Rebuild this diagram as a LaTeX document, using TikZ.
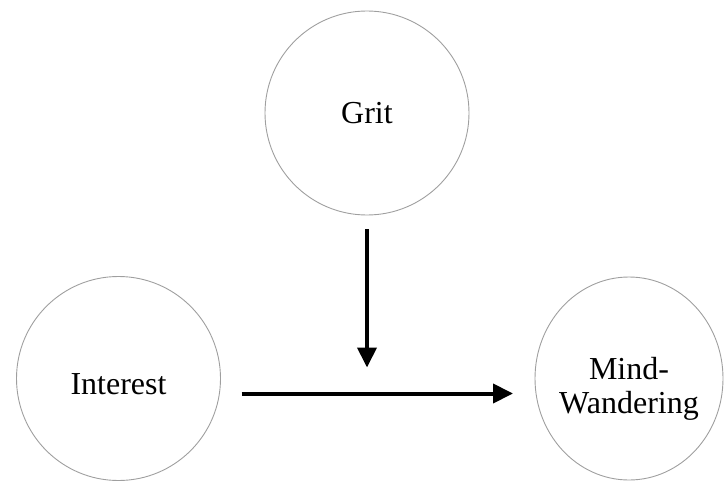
\documentclass[tikz,border=0pt]{standalone}
\usepackage{fontspec}
\setmainfont{Liberation Serif}
\usepackage{tikz}
\usetikzlibrary{arrows.meta,positioning,shapes.geometric}

\begin{document}
\begin{tikzpicture}[
        font=\fontsize{32}{34}\selectfont,
        var/.style={draw=gray!75, line width=0.9pt, circle, align=center, inner sep=0pt, outer sep=0pt, minimum size=204pt},
        arr/.style={-{Triangle[length=20pt,width=19pt]}, line width=4pt}
    ]
        \useasboundingbox (0,0) rectangle (725pt,483pt);
        \node[var] (grit) at (367pt,370pt) {Grit};
        \node[var, text height=32pt] (int) at (118.5pt,104.5pt) {Interest};
        \node[var, ellipse, inner sep=-12pt, text height=76pt, minimum width=188pt, minimum height=203pt] (mw) at (629pt,104.5pt) {Mind-\\Wandering};
        \coordinate (ia) at ([yshift=-15pt]int.east);
        \draw[arr, shorten <=21pt, shorten >=22pt] (ia) -- (ia -| mw.west);
        \draw[arr, shorten <=14pt, shorten >=26pt] (grit.south) -- (grit.south |- ia);
    \end{tikzpicture}
\end{document}
